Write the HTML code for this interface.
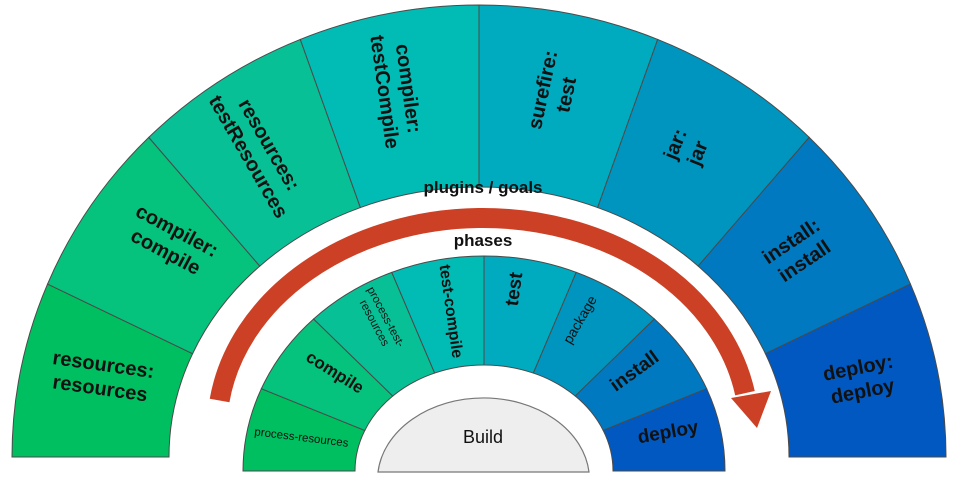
<!DOCTYPE html>
<html><head><meta charset="utf-8"><style>
html,body{margin:0;padding:0;background:#fff;}
svg{display:block;}
text{font-family:"Liberation Sans",Arial,sans-serif;fill:#111;}
.o{font-size:20px;font-weight:bold;}
.p{font-weight:bold;}
</style></head><body>
<svg id="s" width="954" height="481" viewBox="0 0 954 481" xmlns="http://www.w3.org/2000/svg">
<g id="segs"></g>
<path d="M 378 472 A 106 82 0 0 1 589 472 Z" fill="#eeeeee" stroke="#777" stroke-width="1.2"/>
<path id="arc" fill="none" stroke="#cc4125" stroke-width="20"/>
<polygon points="757,428 731,398 771,391" fill="#cc4125"/>
<text x="483" y="193" text-anchor="middle" class="p" font-size="17">plugins / goals</text>
<text x="483" y="246" text-anchor="middle" class="p" font-size="17">phases</text>
<text x="483" y="443" text-anchor="middle" font-size="18">Build</text>

<g class="o" text-anchor="middle">
<text transform="translate(102,375) rotate(8)"><tspan x="0" y="-4">resources:</tspan><tspan x="0" y="20">resources</tspan></text>
<text transform="translate(172,240) rotate(28)"><tspan x="0" y="-4">compiler:</tspan><tspan x="0" y="20">compile</tspan></text>
<text transform="translate(260,150) rotate(60)"><tspan x="0" y="-4">resources:</tspan><tspan x="0" y="20">testResources</tspan></text>
<text transform="translate(398,90) rotate(82)"><tspan x="0" y="-4">compiler:</tspan><tspan x="0" y="20">testCompile</tspan></text>
<text transform="translate(553,92) rotate(-78)"><tspan x="0" y="-4">surefire:</tspan><tspan x="0" y="20">test</tspan></text>
<text transform="translate(685,148) rotate(-68)"><tspan x="0" y="-4">jar:</tspan><tspan x="0" y="20">jar</tspan></text>
<text transform="translate(797,250) rotate(-34)"><tspan x="0" y="-4">install:</tspan><tspan x="0" y="20">install</tspan></text>
<text transform="translate(860,378) rotate(-11)"><tspan x="0" y="-4">deploy:</tspan><tspan x="0" y="20">deploy</tspan></text>
</g>
<g text-anchor="middle">
<text transform="translate(301,441) rotate(7)" font-size="11.5">process-resources</text>
<text transform="translate(332,377) rotate(32)" font-size="17" class="p">compile</text>
<text transform="translate(380,320) rotate(62)" font-size="11.5"><tspan x="0" y="-3">process-test-</tspan><tspan x="0" y="10">resources</tspan></text>
<text transform="translate(446,312) rotate(82)" font-size="16" class="p">test-compile</text>
<text transform="translate(520,290) rotate(-82)" font-size="19" class="p">test</text>
<text transform="translate(584,322) rotate(-60)" font-size="14">package</text>
<text transform="translate(638,376) rotate(-36)" font-size="19" class="p">install</text>
<text transform="translate(669,438) rotate(-10)" font-size="19" class="p">deploy</text>
</g>
</svg>
<script>
(function(){
var cols=["#00bf60","#05c27c","#08c096","#00bcb4","#00aabf","#0095bf","#0079c0","#0058c0"];
function P(cx,cy,rx,ry,t){var a=t*Math.PI/180;return [cx+rx*Math.cos(a),cy-ry*Math.sin(a)];}
function ring(cx,cy,orx,ory,irx,iry){
 var s="";
 for(var i=0;i<8;i++){
  var t1=180-22.5*i,t2=180-22.5*(i+1);
  var a=P(cx,cy,orx,ory,t1),b=P(cx,cy,orx,ory,t2),c=P(cx,cy,irx,iry,t2),d=P(cx,cy,irx,iry,t1);
  s+='<path d="M'+a[0]+' '+a[1]+' A'+orx+' '+ory+' 0 0 1 '+b[0]+' '+b[1]+' L'+c[0]+' '+c[1]+' A'+irx+' '+iry+' 0 0 0 '+d[0]+' '+d[1]+' Z" fill="'+cols[i]+'" stroke="#4a4a4a" stroke-width="1"/>';
 }
 return s;
}
document.getElementById("segs").innerHTML=ring(479,457,467,452,310,270)+ring(484,471,241,215,129,106);
var cx=483,cy=430,rx=266,ry=212;
var a=P(cx,cy,rx,ry,172),b=P(cx,cy,rx,ry,10);
document.getElementById("arc").setAttribute("d","M"+a[0]+" "+a[1]+" A"+rx+" "+ry+" 0 0 1 "+b[0]+" "+b[1]);
})();
</script>
</body></html>
